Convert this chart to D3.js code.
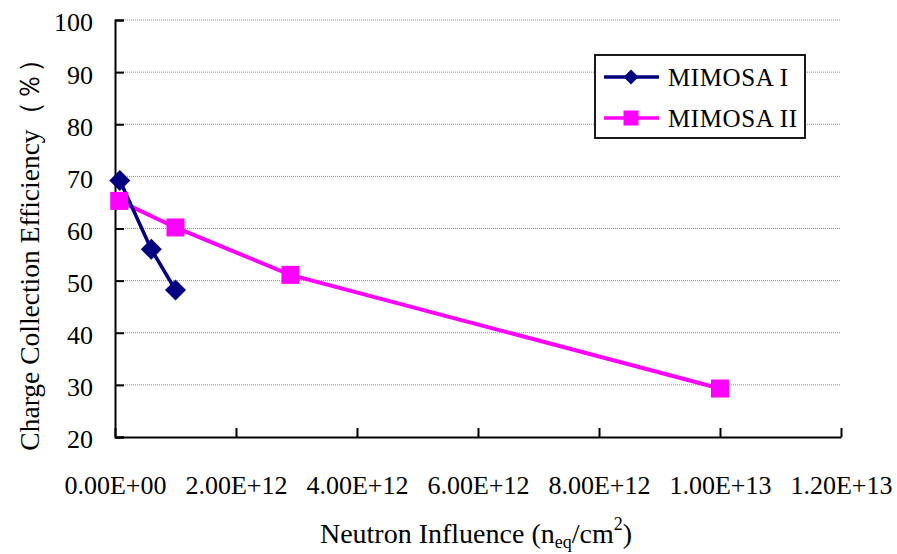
<!DOCTYPE html>
<html><head><meta charset="utf-8">
<script src="https://cdn.jsdelivr.net/npm/d3@7"></script>
<style>
html,body{margin:0;padding:0;background:#fff;}
svg{display:block;}
</style></head>
<body>
<svg id="chart" width="897" height="554"></svg>
<script>
// ---- data ----
const seriesNames = ["MIMOSA I", "MIMOSA II"];
const mimosa1X = [8e10, 6e11, 1e12];
const mimosa1Y = [69.2, 56.0, 48.2];
const mimosa2X = [7e10, 1e12, 2.9e12, 1e13];
const mimosa2Y = [65.3, 60.2, 51.1, 29.3];
const xTicks = [0, 2e12, 4e12, 6e12, 8e12, 1e13, 1.2e13];
const xTickLabels = ["0.00E+00","2.00E+12","4.00E+12","6.00E+12","8.00E+12","1.00E+13","1.20E+13"];
const yTicks = [20, 30, 40, 50, 60, 70, 80, 90, 100];

const FONT = '"Liberation Serif"';
const svg = d3.select("#chart");
const L = 115, R = 841, T = 20, B = 437;
const x = d3.scaleLinear().domain([0, 1.2e13]).range([L, R]);
const y = d3.scaleLinear().domain([20, 100]).range([B, T]);

// gridlines
svg.append("g").selectAll("line").data(yTicks.filter(d => d > 20)).join("line")
  .attr("x1", L).attr("x2", R)
  .attr("y1", d => y(d)).attr("y2", d => y(d))
  .attr("stroke", "#8a8a8a").attr("stroke-width", 1).attr("stroke-dasharray", "1,1");

// y axis
const yAxis = d3.axisLeft(y).tickValues(yTicks).tickSize(-9).tickFormat(d3.format("d"));
const gy = svg.append("g").attr("transform", `translate(${L},0)`).call(yAxis)
  .attr("font-family", null).attr("font-size", null);
gy.select(".domain").attr("stroke", "#000").attr("stroke-width", 2);
gy.selectAll(".tick line").attr("stroke", "#000").attr("stroke-width", 2);
gy.selectAll(".tick text").style("font-family", FONT).style("font-size", "26px")
  .attr("fill", "#000").attr("dy", "0.42em").attr("x", -22);

// x axis
const xAxis = d3.axisBottom(x).tickValues(xTicks).tickSize(-9).tickSizeOuter(0)
  .tickFormat((d, i) => xTickLabels[i]);
const gx = svg.append("g").attr("transform", `translate(0,${B})`).call(xAxis)
  .attr("font-family", null).attr("font-size", null);
gx.select(".domain").attr("stroke", "#000").attr("stroke-width", 2);
gx.selectAll(".tick line").attr("stroke", "#000").attr("stroke-width", 2);
gx.selectAll(".tick text").style("font-family", FONT).style("font-size", "26px")
  .attr("fill", "#000").attr("y", 57).attr("dy", 0);

// lines
const line = d3.line().x(d => x(d[0])).y(d => y(d[1]));
const s1 = mimosa1X.map((v, i) => [v, mimosa1Y[i]]);
const s2 = mimosa2X.map((v, i) => [v, mimosa2Y[i]]);

svg.append("path").datum(s2).attr("d", line).attr("fill", "none")
  .attr("stroke", "#FF00FF").attr("stroke-width", 4);
svg.append("path").datum(s1).attr("d", line).attr("fill", "none")
  .attr("stroke", "#000080").attr("stroke-width", 3.5);

const diamond = r => `M0,${-r}L${r},0L0,${r}L${-r},0Z`;
svg.append("g").selectAll("rect").data(s2).join("rect")
  .attr("x", d => x(d[0]) - 9).attr("y", d => y(d[1]) - 9)
  .attr("width", 18).attr("height", 18).attr("fill", "#FF00FF");
svg.append("g").selectAll("path").data(s1).join("path")
  .attr("transform", d => `translate(${x(d[0])},${y(d[1])})`)
  .attr("d", diamond(10.5)).attr("fill", "#000080");

// legend
const lg = svg.append("g");
lg.append("rect").attr("x", 595).attr("y", 55).attr("width", 210).attr("height", 83)
  .attr("fill", "#fff").attr("stroke", "#000").attr("stroke-width", 1.8);
const rows = [
  {name: seriesNames[0], color: "#000080", y: 77, mark: "d"},
  {name: seriesNames[1], color: "#FF00FF", y: 118, mark: "s"}
];
rows.forEach(r => {
  lg.append("line").attr("x1", 604).attr("x2", 659).attr("y1", r.y).attr("y2", r.y)
    .attr("stroke", r.color).attr("stroke-width", 3.5);
  if (r.mark === "d") {
    lg.append("path").attr("transform", `translate(631,${r.y})`).attr("d", diamond(7.5)).attr("fill", r.color);
  } else {
    lg.append("rect").attr("x", 631 - 7.5).attr("y", r.y - 7.5).attr("width", 15).attr("height", 15).attr("fill", r.color);
  }
  lg.append("text").attr("x", 668).attr("y", r.y).attr("dy", "0.35em")
    .style("font-family", FONT).style("font-size", "25px").style("letter-spacing", "0.6px")
    .text(r.name);
});

// axis titles
svg.append("text").attr("transform", "translate(29,248) rotate(-90)")
  .attr("text-anchor", "middle").attr("dy", "0.35em")
  .style("font-family", FONT).style("font-size", "27.5px")
  .text("Charge Collection Efficiency（％）");

const xt = svg.append("text").attr("x", 476).attr("y", 543).attr("text-anchor", "middle")
  .style("font-family", FONT).style("font-size", "28px");
xt.append("tspan").text("Neutron Influence (n");
xt.append("tspan").style("font-size", "18px").attr("dy", 5).text("eq");
xt.append("tspan").attr("dy", -5).text("/cm");
xt.append("tspan").style("font-size", "18px").attr("dy", -13).text("2");
xt.append("tspan").attr("dy", 13).text(")");
</script>
</body></html>
